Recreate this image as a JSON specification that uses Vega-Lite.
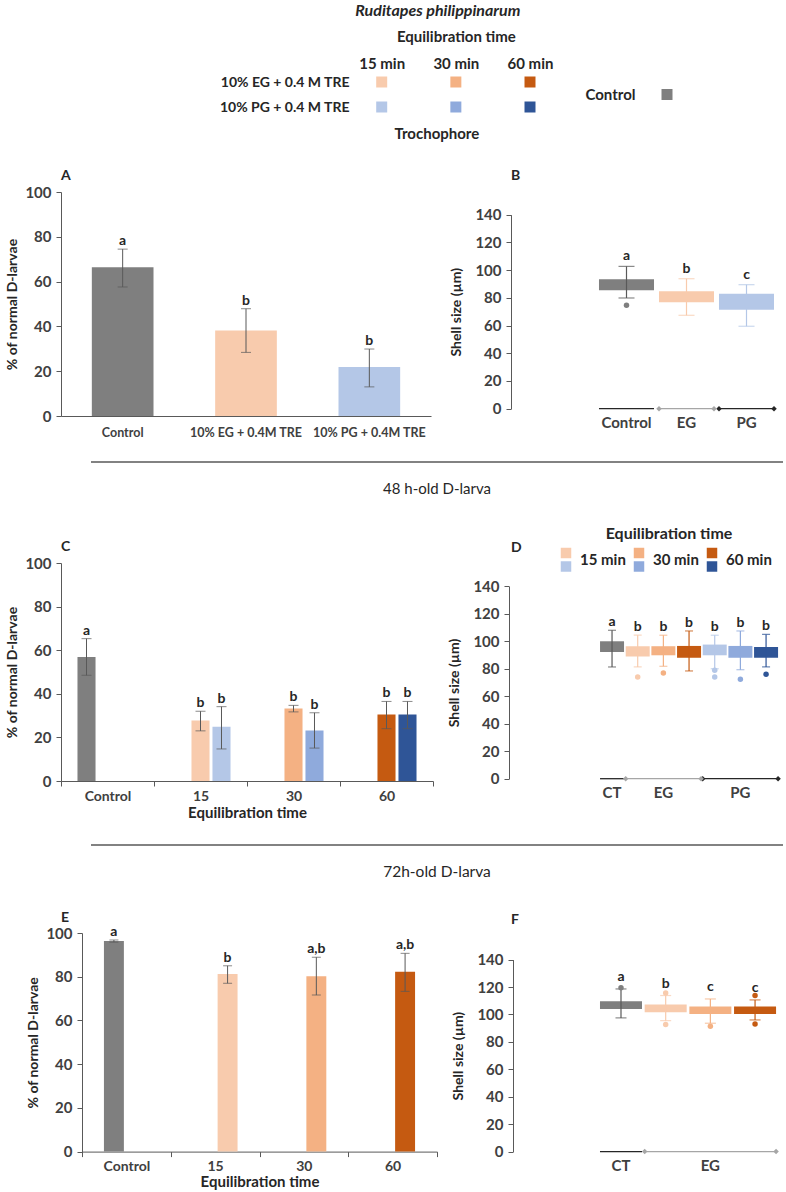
{
  "$schema": "https://vega.github.io/schema/vega-lite/v6.json",
  "background": "white",
  "padding": {"left": 5, "top": 3, "right": 0, "bottom": 0},
  "autosize": {"type": "pad"},
  "title": {"text": "Ruditapes philippinarum", "fontStyle": "italic", "fontWeight": "bold", "fontSize": 16, "anchor": "middle", "frame": "bounds", "dx": 43, "offset": 10, "color": "#262626"},
  "bounds": "flush",
  "columns": 2,
  "spacing": {"row": 0, "column": 74},
  "resolve": {"scale": {"x": "independent", "y": "independent", "color": "independent", "xOffset": "independent", "fill": "independent", "stroke": "independent"}},
  "datasets": {
    "legendRows": [
      {"t": "15 min", "r": "10% EG + 0.4 M TRE", "ser": "EG15"},
      {"t": "30 min", "r": "10% EG + 0.4 M TRE", "ser": "EG30"},
      {"t": "60 min", "r": "10% EG + 0.4 M TRE", "ser": "EG60"},
      {"t": "15 min", "r": "10% PG + 0.4 M TRE", "ser": "PG15"},
      {"t": "30 min", "r": "10% PG + 0.4 M TRE", "ser": "PG30"},
      {"t": "60 min", "r": "10% PG + 0.4 M TRE", "ser": "PG60"}
    ],
    "dLegendRows": [
      {"t": "15 min", "r": "EG", "ser": "EG15"},
      {"t": "30 min", "r": "EG", "ser": "EG30"},
      {"t": "60 min", "r": "EG", "ser": "EG60"},
      {"t": "15 min", "r": "PG", "ser": "PG15"},
      {"t": "30 min", "r": "PG", "ser": "PG30"},
      {"t": "60 min", "r": "PG", "ser": "PG60"}
    ],
    "barsA": [
      {"cat": "Control", "ser": "CT", "v": 66.4, "lo": 57.6, "hi": 74.5, "letter": "a"},
      {"cat": "10% EG + 0.4M TRE", "ser": "EG15", "v": 38.2, "lo": 28.4, "hi": 47.9, "letter": "b"},
      {"cat": "10% PG + 0.4M TRE", "ser": "PG15", "v": 21.9, "lo": 13.0, "hi": 29.9, "letter": "b"}
    ],
    "barsC": [
      {"cat": "Control", "grp": "Control", "ser": "CT", "v": 56.9, "lo": 48.5, "hi": 65.3, "letter": "a"},
      {"cat": "15", "grp": "EG", "ser": "EG15", "v": 27.7, "lo": 23.0, "hi": 32.0, "letter": "b"},
      {"cat": "15", "grp": "PG", "ser": "PG15", "v": 24.9, "lo": 14.7, "hi": 34.1, "letter": "b"},
      {"cat": "30", "grp": "EG", "ser": "EG30", "v": 33.2, "lo": 31.7, "hi": 34.7, "letter": "b"},
      {"cat": "30", "grp": "PG", "ser": "PG30", "v": 23.2, "lo": 15.1, "hi": 31.3, "letter": "b"},
      {"cat": "60", "grp": "EG", "ser": "EG60", "v": 30.5, "lo": 24.0, "hi": 36.5, "letter": "b"},
      {"cat": "60", "grp": "PG", "ser": "PG60", "v": 30.5, "lo": 24.0, "hi": 36.5, "letter": "b"}
    ],
    "barsE": [
      {"cat": "Control", "grp": "Control", "ser": "CT", "v": 96.3, "lo": 95.8, "hi": 96.8, "letter": "a"},
      {"cat": "15", "grp": "EG", "ser": "EG15", "v": 81.3, "lo": 77.0, "hi": 85.0, "letter": "b"},
      {"cat": "30", "grp": "EG", "ser": "EG30", "v": 80.2, "lo": 71.6, "hi": 88.9, "letter": "a,b"},
      {"cat": "60", "grp": "EG", "ser": "EG60", "v": 82.3, "lo": 73.3, "hi": 90.7, "letter": "a,b"}
    ],
    "boxB": [
      {"g": "Control", "ser": "CT", "lo": 79.9, "q1": 85.4, "q3": 93.4, "hi": 102.7, "letter": "a"},
      {"g": "EG", "ser": "EG15", "lo": 67.4, "q1": 76.8, "q3": 84.7, "hi": 93.8, "letter": "b"},
      {"g": "PG", "ser": "PG15", "lo": 59.5, "q1": 71.4, "q3": 83.0, "hi": 89.5, "letter": "c"}
    ],
    "outB": [{"g": "Control", "ser": "CT", "v": 74.6}],
    "grpB": [
      {"k": "CT", "lab": "Control", "first": "Control", "last": "Control", "mid": "Control"},
      {"k": "EG", "lab": "EG", "first": "EG", "last": "EG", "mid": "EG"},
      {"k": "PG", "lab": "PG", "first": "PG", "last": "PG", "mid": "PG"}
    ],
    "boxD": [
      {"g": "CT", "ser": "CT", "lo": 81.3, "q1": 92.2, "q3": 100.0, "hi": 108.0, "letter": "a"},
      {"g": "EG15", "ser": "EG15", "lo": 81.3, "q1": 89.0, "q3": 96.4, "hi": 104.4, "letter": "b"},
      {"g": "EG30", "ser": "EG30", "lo": 81.8, "q1": 89.8, "q3": 96.4, "hi": 104.4, "letter": "b"},
      {"g": "EG60", "ser": "EG60", "lo": 78.4, "q1": 88.0, "q3": 96.6, "hi": 107.5, "letter": "b"},
      {"g": "PG15", "ser": "PG15", "lo": 80.0, "q1": 89.8, "q3": 97.6, "hi": 104.4, "letter": "b"},
      {"g": "PG30", "ser": "PG30", "lo": 79.3, "q1": 88.0, "q3": 96.6, "hi": 107.5, "letter": "b"},
      {"g": "PG60", "ser": "PG60", "lo": 81.3, "q1": 88.0, "q3": 95.9, "hi": 105.0, "letter": "b"}
    ],
    "outD": [
      {"g": "EG15", "ser": "EG15", "v": 74.0},
      {"g": "EG30", "ser": "EG30", "v": 76.9},
      {"g": "PG15", "ser": "PG15", "v": 78.9},
      {"g": "PG15", "ser": "PG15", "v": 74.0},
      {"g": "PG30", "ser": "PG30", "v": 72.3},
      {"g": "PG60", "ser": "PG60", "v": 76.0}
    ],
    "grpD": [
      {"k": "CT", "lab": "CT", "first": "CT", "last": "CT", "mid": "CT"},
      {"k": "EG", "lab": "EG", "first": "EG15", "last": "EG60", "mid": "EG30"},
      {"k": "PG", "lab": "PG", "first": "PG15", "last": "PG60", "mid": "PG30"}
    ],
    "boxF": [
      {"g": "CT", "ser": "CT", "lo": 97.5, "q1": 104.0, "q3": 109.6, "hi": 118.6, "letter": "a"},
      {"g": "EG15", "ser": "EG15", "lo": 95.5, "q1": 101.6, "q3": 107.2, "hi": 113.8, "letter": "b"},
      {"g": "EG30", "ser": "EG30", "lo": 93.6, "q1": 100.4, "q3": 105.8, "hi": 111.3, "letter": "c"},
      {"g": "EG60", "ser": "EG60", "lo": 96.0, "q1": 100.4, "q3": 105.8, "hi": 110.6, "letter": "c"}
    ],
    "outF": [
      {"g": "CT", "ser": "CT", "v": 119.5},
      {"g": "EG15", "ser": "EG15", "v": 115.7},
      {"g": "EG15", "ser": "EG15", "v": 92.6},
      {"g": "EG30", "ser": "EG30", "v": 91.4},
      {"g": "EG60", "ser": "EG60", "v": 113.8},
      {"g": "EG60", "ser": "EG60", "v": 93.0}
    ],
    "grpF": [
      {"k": "CT", "lab": "CT", "first": "CT", "last": "CT", "mid": "CT"},
      {"k": "EG", "lab": "EG", "first": "EG15", "last": "EG60", "mid": "EG30"}
    ],
    "sep1": [{"s": "48 h-old D-larva"}],
    "sep2": [{"s": "72h-old D-larva"}]
  },
  "concat": [
    {
      "width": 376, "height": 110,
      "data": {"name": "legendRows"},
      "layer": [
        {
          "mark": {"type": "square", "size": 121, "opacity": 1},
          "encoding": {
            "x": {"field": "t", "type": "nominal", "scale": {"type": "point", "padding": 0, "domain": ["15 min", "30 min", "60 min"], "range": [320.7, 469]},
                  "axis": {"orient": "top", "title": "Equilibration time", "titleFontSize": 15, "labelFontSize": 15, "labelColor": "#262626", "domain": false, "ticks": false, "tickSize": 0, "labelPadding": 11, "titlePadding": 12, "labelAngle": 0}},
            "y": {"field": "r", "type": "nominal", "scale": {"type": "point", "padding": 0, "domain": ["10% EG + 0.4 M TRE", "10% PG + 0.4 M TRE"], "range": [0, 25]},
                  "axis": {"title": null, "domain": false, "ticks": false, "tickSize": 0, "labelPadding": 0, "offset": -288, "labelFontSize": 14, "labelColor": "#262626"}},
            "color": {"field": "ser", "type": "nominal", "legend": null,
                      "scale": {"domain": ["CT", "EG15", "EG30", "EG60", "PG15", "PG30", "PG60"], "range": ["#7f7f7f", "#f8cbad", "#f4b183", "#c55a11", "#b4c7e7", "#8faadc", "#2f5597"]}}
          }
        },
        {
          "data": {"values": [{"s": "Trochophore"}]},
          "mark": {"type": "text", "fontSize": 15, "fontWeight": "bold", "color": "#262626", "dx": -19, "dy": 27},
          "encoding": {
            "x": {"datum": "30 min", "type": "nominal"},
            "y": {"datum": "10% PG + 0.4 M TRE", "type": "nominal"},
            "text": {"field": "s"}
          }
        }
      ]
    },
    {
      "width": 160, "height": 110,
      "data": {"values": [{"lab": "Control", "ser": "CT"}]},
      "mark": {"type": "square", "size": 121, "opacity": 1, "color": "#7f7f7f"},
      "encoding": {
        "x": {"field": "lab", "type": "nominal", "scale": {"type": "point", "range": [156, 156]}, "axis": null},
        "y": {"field": "lab", "type": "nominal", "scale": {"type": "point", "range": [0, 25], "padding": 0.5},
              "axis": {"title": null, "domain": false, "ticks": false, "tickSize": 0, "labelPadding": 0, "offset": -124, "labelFontSize": 15, "labelColor": "#262626"}}
      }
    },
    {
      "width": 370, "height": 224,
      "title": {"text": "A", "offset": 2},
      "data": {"name": "barsA"},
      "encoding": {
        "x": {"field": "cat", "type": "nominal", "sort": null,
              "scale": {"domain": ["Control", "10% EG + 0.4M TRE", "10% PG + 0.4M TRE"], "paddingInner": 0.5, "paddingOuter": 0.25},
              "axis": {"title": null, "labelAngle": 0, "ticks": false, "tickSize": 0, "labelPadding": 10, "labelOverlap": false, "labelLimit": 0, "labelFontSize": 12.5}}
      },
      "layer": [
        {"mark": {"type": "bar"},
         "encoding": {
           "y": {"field": "v", "type": "quantitative", "title": "% of normal D-larvae", "scale": {"domain": [0, 100]}, "axis": {"values": [0, 20, 40, 60, 80, 100], "titlePadding": 5, "labelOverlap": false}},
           "color": {"field": "ser", "type": "nominal", "legend": null,
                     "scale": {"domain": ["CT", "EG15", "EG30", "EG60", "PG15", "PG30", "PG60"], "range": ["#7f7f7f", "#f8cbad", "#f4b183", "#c55a11", "#b4c7e7", "#8faadc", "#2f5597"]}}
         }},
        {"mark": {"type": "rule", "color": "#595959"},
         "encoding": {"y": {"field": "lo", "type": "quantitative", "title": "% of normal D-larvae"}, "y2": {"field": "hi"}}},
        {"mark": {"type": "tick", "color": "#595959", "size": 10, "thickness": 1},
         "encoding": {"y": {"field": "hi", "type": "quantitative", "title": "% of normal D-larvae"}}},
        {"mark": {"type": "tick", "color": "#595959", "size": 10, "thickness": 1},
         "encoding": {"y": {"field": "lo", "type": "quantitative", "title": "% of normal D-larvae"}}},
        {"mark": {"type": "text", "baseline": "bottom", "dy": -1, "fontSize": 14, "fontWeight": "bold", "color": "#262626"},
         "encoding": {"y": {"field": "hi", "type": "quantitative", "title": "% of normal D-larvae"}, "text": {"field": "letter"}}}
      ]
    },
    {
      "width": 270, "height": 224,
      "title": {"text": "B", "offset": 9},
      "layer": [
        {"data": {"name": "boxB"}, "mark": {"type": "bar"},
         "encoding": {
           "x": {"field": "g", "type": "nominal", "scale": {"domain": ["Control", "EG", "PG"], "range": [85.5, 265.5], "paddingInner": 0.083, "paddingOuter": 0.0415}, "axis": null},
           "y": {"field": "q1", "type": "quantitative", "title": "Shell size (µm)", "scale": {"domain": [0, 140], "range": [216.7, 22.7]}, "axis": {"values": [0, 20, 40, 60, 80, 100, 120, 140], "tickCount": 8, "titlePadding": 11, "labelOverlap": false}},
           "y2": {"field": "q3"},
           "color": {"field": "ser", "type": "nominal", "legend": null,
                     "scale": {"domain": ["CT", "EG15", "EG30", "EG60", "PG15", "PG30", "PG60"], "range": ["#7f7f7f", "#f8cbad", "#f4b183", "#c55a11", "#b4c7e7", "#8faadc", "#2f5597"]}}
         }},
        {"data": {"name": "boxB"}, "mark": {"type": "rule", "strokeWidth": 1.2},
         "encoding": {
           "x": {"field": "g", "type": "nominal"},
           "y": {"field": "lo", "type": "quantitative", "title": "Shell size (µm)", "axis": {"values": [0, 20, 40, 60, 80, 100, 120, 140], "tickCount": 8, "titlePadding": 11, "labelOverlap": false}}, "y2": {"field": "hi"},
           "stroke": {"field": "ser", "type": "nominal", "legend": null,
                      "scale": {"domain": ["CT", "EG15", "EG30", "EG60", "PG15", "PG30", "PG60"], "range": ["#595959", "#f8cbad", "#f4b183", "#c55a11", "#b4c7e7", "#8faadc", "#2f5597"]}}
         }},
        {"data": {"name": "boxB"}, "mark": {"type": "tick", "size": 16, "thickness": 1.2},
         "encoding": {
           "x": {"field": "g", "type": "nominal"},
           "y": {"field": "hi", "type": "quantitative", "title": "Shell size (µm)", "axis": {"values": [0, 20, 40, 60, 80, 100, 120, 140], "tickCount": 8, "titlePadding": 11, "labelOverlap": false}},
           "fill": {"field": "ser", "type": "nominal", "legend": null,
                    "scale": {"domain": ["CT", "EG15", "EG30", "EG60", "PG15", "PG30", "PG60"], "range": ["#595959", "#f8cbad", "#f4b183", "#c55a11", "#b4c7e7", "#8faadc", "#2f5597"]}}
         }},
        {"data": {"name": "boxB"}, "mark": {"type": "tick", "size": 16, "thickness": 1.2},
         "encoding": {
           "x": {"field": "g", "type": "nominal"},
           "y": {"field": "lo", "type": "quantitative", "title": "Shell size (µm)", "axis": {"values": [0, 20, 40, 60, 80, 100, 120, 140], "tickCount": 8, "titlePadding": 11, "labelOverlap": false}},
           "fill": {"field": "ser", "type": "nominal", "legend": null}
         }},
        {"data": {"name": "outB"}, "mark": {"type": "point", "filled": true, "size": 30, "opacity": 1},
         "encoding": {
           "x": {"field": "g", "type": "nominal"},
           "y": {"field": "v", "type": "quantitative", "title": "Shell size (µm)", "axis": {"values": [0, 20, 40, 60, 80, 100, 120, 140], "tickCount": 8, "titlePadding": 11, "labelOverlap": false}},
           "color": {"field": "ser", "type": "nominal", "legend": null}
         }},
        {"data": {"name": "boxB"}, "mark": {"type": "text", "baseline": "bottom", "dy": -3, "fontSize": 14, "fontWeight": "bold", "color": "#262626"},
         "encoding": {
           "x": {"field": "g", "type": "nominal"},
           "y": {"field": "hi", "type": "quantitative", "title": "Shell size (µm)", "axis": {"values": [0, 20, 40, 60, 80, 100, 120, 140], "tickCount": 8, "titlePadding": 11, "labelOverlap": false}},
           "text": {"field": "letter"}
         }},
        {"data": {"name": "grpB"}, "mark": {"type": "rule", "strokeWidth": 1.3},
         "encoding": {
           "x": {"field": "first", "type": "nominal", "bandPosition": 0},
           "x2": {"field": "last", "bandPosition": 1},
           "y": {"datum": 0, "type": "quantitative", "title": "Shell size (µm)", "axis": {"values": [0, 20, 40, 60, 80, 100, 120, 140], "tickCount": 8, "titlePadding": 11, "labelOverlap": false}},
           "color": {"condition": {"test": "datum.k === 'EG'", "value": "#a6a6a6"}, "value": "#262626"}
         }},
        {"data": {"name": "grpB"}, "transform": [{"filter": "datum.k !== 'CT'"}], "mark": {"type": "point", "shape": "diamond", "filled": true, "size": 30, "opacity": 1},
         "encoding": {
           "x": {"field": "first", "type": "nominal", "bandPosition": 0},
           "y": {"datum": 0, "type": "quantitative", "title": "Shell size (µm)", "axis": {"values": [0, 20, 40, 60, 80, 100, 120, 140], "tickCount": 8, "titlePadding": 11, "labelOverlap": false}},
           "color": {"condition": {"test": "datum.k === 'EG'", "value": "#a6a6a6"}, "value": "#262626"}
         }},
        {"data": {"name": "grpB"}, "transform": [{"filter": "datum.k !== 'CT'"}], "mark": {"type": "point", "shape": "diamond", "filled": true, "size": 30, "opacity": 1},
         "encoding": {
           "x": {"field": "last", "type": "nominal", "bandPosition": 1},
           "y": {"datum": 0, "type": "quantitative", "title": "Shell size (µm)", "axis": {"values": [0, 20, 40, 60, 80, 100, 120, 140], "tickCount": 8, "titlePadding": 11, "labelOverlap": false}},
           "color": {"condition": {"test": "datum.k === 'EG'", "value": "#a6a6a6"}, "value": "#262626"}
         }},
        {"data": {"name": "grpB"}, "mark": {"type": "text", "baseline": "top", "dy": 7, "fontSize": 15, "fontWeight": "bold", "color": "#404040"},
         "encoding": {
           "x": {"field": "mid", "type": "nominal"},
           "y": {"datum": 0, "type": "quantitative", "title": "Shell size (µm)", "axis": {"values": [0, 20, 40, 60, 80, 100, 120, 140], "tickCount": 8, "titlePadding": 11, "labelOverlap": false}},
           "text": {"field": "lab"}
         }}
      ]
    },
    {
      "width": 376, "height": 147,
      "data": {"name": "sep1"},
      "layer": [
        {"mark": {"type": "rule", "color": "#595959", "strokeWidth": 1.5},
         "encoding": {
           "x": {"datum": 0, "type": "quantitative", "scale": {"domain": [0, 1], "range": [30, 722]}, "axis": null},
           "x2": {"datum": 1},
           "y": {"datum": 0, "type": "quantitative", "scale": {"domain": [0, 1], "range": [46, 73]}, "axis": null}
         }},
        {"mark": {"type": "text", "fontSize": 15, "color": "#262626"},
         "encoding": {
           "x": {"datum": 0.5, "type": "quantitative"},
           "y": {"datum": 1, "type": "quantitative"},
           "text": {"field": "s"}
         }}
      ]
    },
    {
      "width": 272, "height": 147,
      "data": {"name": "dLegendRows"},
      "layer": [
        {"mark": {"type": "square", "size": 110, "opacity": 1},
         "encoding": {
           "x": {"field": "t", "type": "nominal", "scale": {"type": "point", "padding": 0, "domain": ["15 min", "30 min", "60 min"], "range": [55, 201]}, "axis": null},
           "y": {"field": "r", "type": "nominal", "scale": {"type": "point", "padding": 0, "domain": ["EG", "PG"], "range": [137, 150.5]}, "axis": null},
           "color": {"field": "ser", "type": "nominal", "legend": null,
                     "scale": {"domain": ["CT", "EG15", "EG30", "EG60", "PG15", "PG30", "PG60"], "range": ["#7f7f7f", "#f8cbad", "#f4b183", "#c55a11", "#b4c7e7", "#8faadc", "#2f5597"]}}
         }},
        {"transform": [{"filter": "datum.r === 'EG'"}],
         "mark": {"type": "text", "align": "left", "dx": 14, "dy": 6.5, "fontSize": 15, "fontWeight": "bold", "color": "#262626"},
         "encoding": {
           "x": {"field": "t", "type": "nominal"},
           "y": {"field": "r", "type": "nominal"},
           "text": {"field": "t"}
         }},
        {"data": {"values": [{"s": "Equilibration time"}]},
         "mark": {"type": "text", "dx": 30, "dy": -19, "fontSize": 16, "fontWeight": "bold", "color": "#262626"},
         "encoding": {
           "x": {"datum": "30 min", "type": "nominal"},
           "y": {"datum": "EG", "type": "nominal"},
           "text": {"field": "s"}
         }}
      ]
    },
    {
      "width": 372, "height": 218,
      "title": {"text": "C", "offset": 2},
      "data": {"name": "barsC"},
      "encoding": {
        "x": {"field": "cat", "type": "nominal", "sort": null,
              "scale": {"domain": ["Control", "15", "30", "60"], "paddingInner": 0, "paddingOuter": 0},
              "axis": {"title": "Equilibration time", "titleFontSize": 15, "titlePadding": 2, "labelAngle": 0, "tickBand": "extent", "ticks": true, "tickSize": 5, "labelPadding": 3, "labelFontSize": 14}},
        "xOffset": {"field": "grp", "type": "nominal", "scale": {"domain": ["Control", "EG", "PG"], "paddingInner": 0.14, "paddingOuter": 0.785}}
      },
      "layer": [
        {"mark": {"type": "bar"},
         "encoding": {
           "y": {"field": "v", "type": "quantitative", "title": "% of normal D-larvae", "scale": {"domain": [0, 100]}, "axis": {"values": [0, 20, 40, 60, 80, 100], "titlePadding": 5, "labelOverlap": false}},
           "color": {"field": "ser", "type": "nominal", "legend": null,
                     "scale": {"domain": ["CT", "EG15", "EG30", "EG60", "PG15", "PG30", "PG60"], "range": ["#7f7f7f", "#f8cbad", "#f4b183", "#c55a11", "#b4c7e7", "#8faadc", "#2f5597"]}}
         }},
        {"mark": {"type": "rule", "color": "#595959"},
         "encoding": {"y": {"field": "lo", "type": "quantitative", "title": "% of normal D-larvae"}, "y2": {"field": "hi"}}},
        {"mark": {"type": "tick", "color": "#595959", "size": 10, "thickness": 1},
         "encoding": {"y": {"field": "hi", "type": "quantitative", "title": "% of normal D-larvae"}}},
        {"mark": {"type": "tick", "color": "#595959", "size": 10, "thickness": 1},
         "encoding": {"y": {"field": "lo", "type": "quantitative", "title": "% of normal D-larvae"}}},
        {"mark": {"type": "text", "baseline": "bottom", "dy": -1, "fontSize": 14, "fontWeight": "bold", "color": "#262626"},
         "encoding": {"y": {"field": "hi", "type": "quantitative", "title": "% of normal D-larvae"}, "text": {"field": "letter"}}}
      ]
    },
    {
      "width": 272, "height": 218,
      "title": {"text": "D", "offset": 8},
      "layer": [
        {"data": {"name": "boxD"}, "mark": {"type": "bar"},
         "encoding": {
           "x": {"field": "g", "type": "nominal", "scale": {"domain": ["CT", "EG15", "EG30", "EG60", "PG15", "PG30", "PG60"], "range": [88.2, 267.9], "paddingInner": 0.065, "paddingOuter": 0.0325}, "axis": null},
           "y": {"field": "q1", "type": "quantitative", "title": "Shell size (µm)", "scale": {"domain": [0, 140], "range": [215.7, 23.3]}, "axis": {"values": [0, 20, 40, 60, 80, 100, 120, 140], "tickCount": 8, "titlePadding": 11, "offset": 2, "labelOverlap": false}},
           "y2": {"field": "q3"},
           "color": {"field": "ser", "type": "nominal", "legend": null,
                     "scale": {"domain": ["CT", "EG15", "EG30", "EG60", "PG15", "PG30", "PG60"], "range": ["#7f7f7f", "#f8cbad", "#f4b183", "#c55a11", "#b4c7e7", "#8faadc", "#2f5597"]}}
         }},
        {"data": {"name": "boxD"}, "mark": {"type": "rule", "strokeWidth": 1.2},
         "encoding": {
           "x": {"field": "g", "type": "nominal"},
           "y": {"field": "lo", "type": "quantitative", "title": "Shell size (µm)", "axis": {"values": [0, 20, 40, 60, 80, 100, 120, 140], "tickCount": 8, "titlePadding": 11, "offset": 2, "labelOverlap": false}}, "y2": {"field": "hi"},
           "stroke": {"field": "ser", "type": "nominal", "legend": null,
                      "scale": {"domain": ["CT", "EG15", "EG30", "EG60", "PG15", "PG30", "PG60"], "range": ["#595959", "#f8cbad", "#f4b183", "#c55a11", "#b4c7e7", "#8faadc", "#2f5597"]}}
         }},
        {"data": {"name": "boxD"}, "mark": {"type": "tick", "size": 8, "thickness": 1.2},
         "encoding": {
           "x": {"field": "g", "type": "nominal"},
           "y": {"field": "hi", "type": "quantitative", "title": "Shell size (µm)", "axis": {"values": [0, 20, 40, 60, 80, 100, 120, 140], "tickCount": 8, "titlePadding": 11, "offset": 2, "labelOverlap": false}},
           "fill": {"field": "ser", "type": "nominal", "legend": null,
                    "scale": {"domain": ["CT", "EG15", "EG30", "EG60", "PG15", "PG30", "PG60"], "range": ["#595959", "#f8cbad", "#f4b183", "#c55a11", "#b4c7e7", "#8faadc", "#2f5597"]}}
         }},
        {"data": {"name": "boxD"}, "mark": {"type": "tick", "size": 8, "thickness": 1.2},
         "encoding": {
           "x": {"field": "g", "type": "nominal"},
           "y": {"field": "lo", "type": "quantitative", "title": "Shell size (µm)", "axis": {"values": [0, 20, 40, 60, 80, 100, 120, 140], "tickCount": 8, "titlePadding": 11, "offset": 2, "labelOverlap": false}},
           "fill": {"field": "ser", "type": "nominal", "legend": null}
         }},
        {"data": {"name": "outD"}, "mark": {"type": "point", "filled": true, "size": 30, "opacity": 1},
         "encoding": {
           "x": {"field": "g", "type": "nominal"},
           "y": {"field": "v", "type": "quantitative", "title": "Shell size (µm)", "axis": {"values": [0, 20, 40, 60, 80, 100, 120, 140], "tickCount": 8, "titlePadding": 11, "offset": 2, "labelOverlap": false}},
           "color": {"field": "ser", "type": "nominal", "legend": null}
         }},
        {"data": {"name": "boxD"}, "mark": {"type": "text", "baseline": "bottom", "dy": -1, "fontSize": 14, "fontWeight": "bold", "color": "#262626"},
         "encoding": {
           "x": {"field": "g", "type": "nominal"},
           "y": {"field": "hi", "type": "quantitative", "title": "Shell size (µm)", "axis": {"values": [0, 20, 40, 60, 80, 100, 120, 140], "tickCount": 8, "titlePadding": 11, "offset": 2, "labelOverlap": false}},
           "text": {"field": "letter"}
         }},
        {"data": {"name": "grpD"}, "mark": {"type": "rule", "strokeWidth": 1.3},
         "encoding": {
           "x": {"field": "first", "type": "nominal", "bandPosition": 0},
           "x2": {"field": "last", "bandPosition": 1},
           "y": {"datum": 0, "type": "quantitative", "title": "Shell size (µm)", "axis": {"values": [0, 20, 40, 60, 80, 100, 120, 140], "tickCount": 8, "titlePadding": 11, "offset": 2, "labelOverlap": false}},
           "color": {"condition": {"test": "datum.k === 'EG'", "value": "#a6a6a6"}, "value": "#262626"}
         }},
        {"data": {"name": "grpD"}, "transform": [{"filter": "datum.k !== 'CT'"}], "mark": {"type": "point", "shape": "diamond", "filled": true, "size": 30, "opacity": 1},
         "encoding": {
           "x": {"field": "first", "type": "nominal", "bandPosition": 0},
           "y": {"datum": 0, "type": "quantitative", "title": "Shell size (µm)", "axis": {"values": [0, 20, 40, 60, 80, 100, 120, 140], "tickCount": 8, "titlePadding": 11, "offset": 2, "labelOverlap": false}},
           "color": {"condition": {"test": "datum.k === 'EG'", "value": "#a6a6a6"}, "value": "#262626"}
         }},
        {"data": {"name": "grpD"}, "transform": [{"filter": "datum.k !== 'CT'"}], "mark": {"type": "point", "shape": "diamond", "filled": true, "size": 30, "opacity": 1},
         "encoding": {
           "x": {"field": "last", "type": "nominal", "bandPosition": 1},
           "y": {"datum": 0, "type": "quantitative", "title": "Shell size (µm)", "axis": {"values": [0, 20, 40, 60, 80, 100, 120, 140], "tickCount": 8, "titlePadding": 11, "offset": 2, "labelOverlap": false}},
           "color": {"condition": {"test": "datum.k === 'EG'", "value": "#a6a6a6"}, "value": "#262626"}
         }},
        {"data": {"name": "grpD"}, "mark": {"type": "text", "baseline": "top", "dy": 7, "fontSize": 15, "fontWeight": "bold", "color": "#404040"},
         "encoding": {
           "x": {"field": "mid", "type": "nominal"},
           "y": {"datum": 0, "type": "quantitative", "title": "Shell size (µm)", "axis": {"values": [0, 20, 40, 60, 80, 100, 120, 140], "tickCount": 8, "titlePadding": 11, "offset": 2, "labelOverlap": false}},
           "text": {"field": "lab"}
         }}
      ]
    },
    {
      "width": 376, "height": 151.7,
      "data": {"name": "sep2"},
      "layer": [
        {"mark": {"type": "rule", "color": "#595959", "strokeWidth": 1.5},
         "encoding": {
           "x": {"datum": 0, "type": "quantitative", "scale": {"domain": [0, 1], "range": [30, 722]}, "axis": null},
           "x2": {"datum": 1},
           "y": {"datum": 0, "type": "quantitative", "scale": {"domain": [0, 1], "range": [64, 91]}, "axis": null}
         }},
        {"mark": {"type": "text", "fontSize": 15.5, "color": "#262626"},
         "encoding": {
           "x": {"datum": 0.5, "type": "quantitative"},
           "y": {"datum": 1, "type": "quantitative"},
           "text": {"field": "s"}
         }}
      ]
    },
    {
      "width": 10, "height": 10,
      "data": {"values": [{"s": ""}]},
      "mark": {"type": "text"},
      "encoding": {"text": {"field": "s"}}
    },
    {
      "width": 376, "height": 218.6,
      "title": {"text": "E", "offset": 0},
      "data": {"name": "barsE"},
      "encoding": {
        "x": {"field": "cat", "type": "nominal", "sort": null,
              "scale": {"domain": ["Control", "15", "30", "60"], "range": [21, 376], "paddingInner": 0, "paddingOuter": 0},
              "axis": {"title": "Equilibration time", "titleFontSize": 15, "titlePadding": 1, "labelAngle": 0, "tickBand": "extent", "ticks": true, "tickSize": 5, "labelPadding": 3, "labelFontSize": 14}},
        "xOffset": {"field": "grp", "type": "nominal", "scale": {"domain": ["Control", "EG"], "paddingInner": 0.2, "paddingOuter": 0.88}}
      },
      "layer": [
        {"mark": {"type": "bar"},
         "encoding": {
           "y": {"field": "v", "type": "quantitative", "title": "% of normal D-larvae", "scale": {"domain": [0, 100]}, "axis": {"values": [0, 20, 40, 60, 80, 100], "titlePadding": 5, "offset": -21, "labelOverlap": false}},
           "color": {"field": "ser", "type": "nominal", "legend": null,
                     "scale": {"domain": ["CT", "EG15", "EG30", "EG60", "PG15", "PG30", "PG60"], "range": ["#7f7f7f", "#f8cbad", "#f4b183", "#c55a11", "#b4c7e7", "#8faadc", "#2f5597"]}}
         }},
        {"mark": {"type": "rule", "color": "#595959"},
         "encoding": {"y": {"field": "lo", "type": "quantitative", "title": "% of normal D-larvae"}, "y2": {"field": "hi"}}},
        {"mark": {"type": "tick", "color": "#595959", "size": 9, "thickness": 1},
         "encoding": {"y": {"field": "hi", "type": "quantitative", "title": "% of normal D-larvae"}}},
        {"mark": {"type": "tick", "color": "#595959", "size": 9, "thickness": 1},
         "encoding": {"y": {"field": "lo", "type": "quantitative", "title": "% of normal D-larvae"}}},
        {"mark": {"type": "text", "baseline": "bottom", "dy": -1, "fontSize": 14, "fontWeight": "bold", "color": "#262626"},
         "encoding": {"y": {"field": "hi", "type": "quantitative", "title": "% of normal D-larvae"}, "text": {"field": "letter"}}}
      ]
    },
    {
      "width": 272, "height": 218.6,
      "title": {"text": "F", "offset": 6},
      "layer": [
        {"data": {"name": "boxF"}, "mark": {"type": "bar"},
         "encoding": {
           "x": {"field": "g", "type": "nominal", "scale": {"domain": ["CT", "EG15", "EG30", "EG60"], "range": [87.65, 266.4], "paddingInner": 0.06, "paddingOuter": 0.03}, "axis": null},
           "y": {"field": "q1", "type": "quantitative", "title": "Shell size (µm)", "scale": {"domain": [0, 140], "range": [218.6, 26.6]}, "axis": {"values": [0, 20, 40, 60, 80, 100, 120, 140], "tickCount": 8, "titlePadding": 11, "offset": -2, "labelOverlap": false}},
           "y2": {"field": "q3"},
           "color": {"field": "ser", "type": "nominal", "legend": null,
                     "scale": {"domain": ["CT", "EG15", "EG30", "EG60", "PG15", "PG30", "PG60"], "range": ["#7f7f7f", "#f8cbad", "#f4b183", "#c55a11", "#b4c7e7", "#8faadc", "#2f5597"]}}
         }},
        {"data": {"name": "boxF"}, "mark": {"type": "rule", "strokeWidth": 1.2},
         "encoding": {
           "x": {"field": "g", "type": "nominal"},
           "y": {"field": "lo", "type": "quantitative", "title": "Shell size (µm)", "axis": {"values": [0, 20, 40, 60, 80, 100, 120, 140], "tickCount": 8, "titlePadding": 11, "offset": -2, "labelOverlap": false}}, "y2": {"field": "hi"},
           "stroke": {"field": "ser", "type": "nominal", "legend": null,
                      "scale": {"domain": ["CT", "EG15", "EG30", "EG60", "PG15", "PG30", "PG60"], "range": ["#595959", "#f8cbad", "#f4b183", "#c55a11", "#b4c7e7", "#8faadc", "#2f5597"]}}
         }},
        {"data": {"name": "boxF"}, "mark": {"type": "tick", "size": 11, "thickness": 1.2},
         "encoding": {
           "x": {"field": "g", "type": "nominal"},
           "y": {"field": "hi", "type": "quantitative", "title": "Shell size (µm)", "axis": {"values": [0, 20, 40, 60, 80, 100, 120, 140], "tickCount": 8, "titlePadding": 11, "offset": -2, "labelOverlap": false}},
           "fill": {"field": "ser", "type": "nominal", "legend": null,
                    "scale": {"domain": ["CT", "EG15", "EG30", "EG60", "PG15", "PG30", "PG60"], "range": ["#595959", "#f8cbad", "#f4b183", "#c55a11", "#b4c7e7", "#8faadc", "#2f5597"]}}
         }},
        {"data": {"name": "boxF"}, "mark": {"type": "tick", "size": 11, "thickness": 1.2},
         "encoding": {
           "x": {"field": "g", "type": "nominal"},
           "y": {"field": "lo", "type": "quantitative", "title": "Shell size (µm)", "axis": {"values": [0, 20, 40, 60, 80, 100, 120, 140], "tickCount": 8, "titlePadding": 11, "offset": -2, "labelOverlap": false}},
           "fill": {"field": "ser", "type": "nominal", "legend": null}
         }},
        {"data": {"name": "outF"}, "mark": {"type": "point", "filled": true, "size": 30, "opacity": 1},
         "encoding": {
           "x": {"field": "g", "type": "nominal"},
           "y": {"field": "v", "type": "quantitative", "title": "Shell size (µm)", "axis": {"values": [0, 20, 40, 60, 80, 100, 120, 140], "tickCount": 8, "titlePadding": 11, "offset": -2, "labelOverlap": false}},
           "color": {"field": "ser", "type": "nominal", "legend": null}
         }},
        {"data": {"name": "boxF"}, "mark": {"type": "text", "baseline": "bottom", "dy": -5, "fontSize": 14, "fontWeight": "bold", "color": "#262626"},
         "encoding": {
           "x": {"field": "g", "type": "nominal"},
           "y": {"field": "hi", "type": "quantitative", "title": "Shell size (µm)", "axis": {"values": [0, 20, 40, 60, 80, 100, 120, 140], "tickCount": 8, "titlePadding": 11, "offset": -2, "labelOverlap": false}},
           "text": {"field": "letter"}
         }},
        {"data": {"name": "grpF"}, "mark": {"type": "rule", "strokeWidth": 1.3},
         "encoding": {
           "x": {"field": "first", "type": "nominal", "bandPosition": 0},
           "x2": {"field": "last", "bandPosition": 1},
           "y": {"datum": 0, "type": "quantitative", "title": "Shell size (µm)", "axis": {"values": [0, 20, 40, 60, 80, 100, 120, 140], "tickCount": 8, "titlePadding": 11, "offset": -2, "labelOverlap": false}},
           "color": {"condition": {"test": "datum.k === 'EG'", "value": "#a6a6a6"}, "value": "#262626"}
         }},
        {"data": {"name": "grpF"}, "transform": [{"filter": "datum.k !== 'CT'"}], "mark": {"type": "point", "shape": "diamond", "filled": true, "size": 30, "opacity": 1},
         "encoding": {
           "x": {"field": "first", "type": "nominal", "bandPosition": 0},
           "y": {"datum": 0, "type": "quantitative", "title": "Shell size (µm)", "axis": {"values": [0, 20, 40, 60, 80, 100, 120, 140], "tickCount": 8, "titlePadding": 11, "offset": -2, "labelOverlap": false}},
           "color": {"condition": {"test": "datum.k === 'EG'", "value": "#a6a6a6"}, "value": "#262626"}
         }},
        {"data": {"name": "grpF"}, "transform": [{"filter": "datum.k !== 'CT'"}], "mark": {"type": "point", "shape": "diamond", "filled": true, "size": 30, "opacity": 1},
         "encoding": {
           "x": {"field": "last", "type": "nominal", "bandPosition": 1},
           "y": {"datum": 0, "type": "quantitative", "title": "Shell size (µm)", "axis": {"values": [0, 20, 40, 60, 80, 100, 120, 140], "tickCount": 8, "titlePadding": 11, "offset": -2, "labelOverlap": false}},
           "color": {"condition": {"test": "datum.k === 'EG'", "value": "#a6a6a6"}, "value": "#262626"}
         }},
        {"data": {"name": "grpF"}, "mark": {"type": "text", "baseline": "top", "dy": 7, "fontSize": 15, "fontWeight": "bold", "color": "#404040"},
         "encoding": {
           "x": {"field": "mid", "type": "nominal"},
           "y": {"datum": 0, "type": "quantitative", "title": "Shell size (µm)", "axis": {"values": [0, 20, 40, 60, 80, 100, 120, 140], "tickCount": 8, "titlePadding": 11, "offset": -2, "labelOverlap": false}},
           "text": {"field": "lab"}
         }}
      ]
    }
  ],
  "config": {
    "font": "Lato",
    "view": {"stroke": null},
    "title": {"font": "Lato", "fontSize": 14, "fontWeight": "bold", "color": "#262626", "anchor": "start", "frame": "group"},
    "axis": {"labelFont": "Lato", "titleFont": "Lato", "labelFontWeight": "bold", "titleFontWeight": "bold", "labelFontSize": 15, "titleFontSize": 14, "labelColor": "#404040", "titleColor": "#262626", "domainColor": "#595959", "tickColor": "#595959", "grid": false, "tickSize": 5, "labelPadding": 5},
    "text": {"font": "Lato"},
    "bar": {"stroke": null}
  }
}
